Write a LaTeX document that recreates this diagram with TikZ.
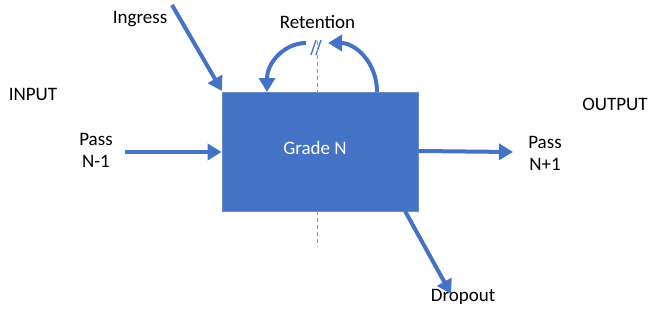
\documentclass[tikz,border=0pt]{standalone}
\usepackage{fontspec}
\setmainfont{Carlito}
\usetikzlibrary{arrows.meta}
\definecolor{ofblue}{HTML}{4472C4}
\definecolor{ofborder}{HTML}{6A8BCB}
\definecolor{dashred}{HTML}{F26D6D}
\begin{document}
\begin{tikzpicture}[x=1pt,y=-1pt,
  lbl/.style={font=\fontsize{19}{22}\selectfont, inner sep=0pt, align=center},
  flow/.style={line width=4pt, draw=ofblue, -{Triangle[length=14pt,width=16pt]}},
  gradebox/.style={rectangle, fill=ofblue, draw=ofborder, line width=0.8pt, minimum width=196pt, minimum height=119pt, inner sep=0pt, text=white, font=\fontsize{19}{22}\selectfont}]
\useasboundingbox (0,0) rectangle (653,324);
% box
\node[gradebox] (box) at (320,151.5) {};
\node[lbl, text=white] (grade) at (315,148) {Grade N};
% labels
\node[lbl] (ingress) at (140,19) {Ingress};
\node[lbl] (retention) at (317.5,22) {Retention};
\node[lbl] (input) at (33,94) {INPUT};
\node[lbl] (passin) at (96,150) {Pass\\N-1};
\node[lbl] (output) at (615,104) {OUTPUT};
\node[lbl] (passout) at (545,153) {Pass\\N+1};
\node[lbl] (dropout) at (463,297) {Dropout};
% break mark
\coordinate (b1a) at (311,55); \coordinate (b1b) at (316,40);
\coordinate (b2a) at (316,55); \coordinate (b2b) at (321,40);
\draw[ofblue, line width=1.3pt] (b1a) -- (b1b);
\draw[ofblue, line width=1.3pt] (b2a) -- (b2b);
% dashed centre line (hidden behind the box)
\coordinate (dtop) at (317.5,41);
\coordinate (dbot) at (317.5,247);
\draw[draw=dashred, line width=1pt, dash pattern=on 4pt off 3pt] (dtop) -- (box.north -| dtop);
\draw[draw=dashred, line width=1pt, dash pattern=on 4pt off 3pt] (box.south -| dbot) -- (dbot);
% arrows
\coordinate (ingstart) at (172,5);
\coordinate (ingend) at (222,91);
\draw[flow] (ingstart) -- (ingend);
\coordinate (pinstart) at (125,152);
\draw[flow] (pinstart) -- (box.west |- pinstart);
\coordinate (poutend) at (513,152);
\draw[flow] (box.east |- 0,151) -- (poutend);
\coordinate (dropstart) at (405,211);
\coordinate (dropend) at (451,294);
\draw[flow] (dropstart) -- (dropend);
% retention arcs
\coordinate (lstart) at (306,43);
\coordinate (lend) at (267,92);
\draw[flow] (lstart) .. controls (285,43) and (267,62) .. (lend);
\coordinate (rstart) at (377,92);
\coordinate (rend) at (328,43);
\draw[flow] (rstart) .. controls (377,62) and (355,43) .. (rend);
\end{tikzpicture}
\end{document}
